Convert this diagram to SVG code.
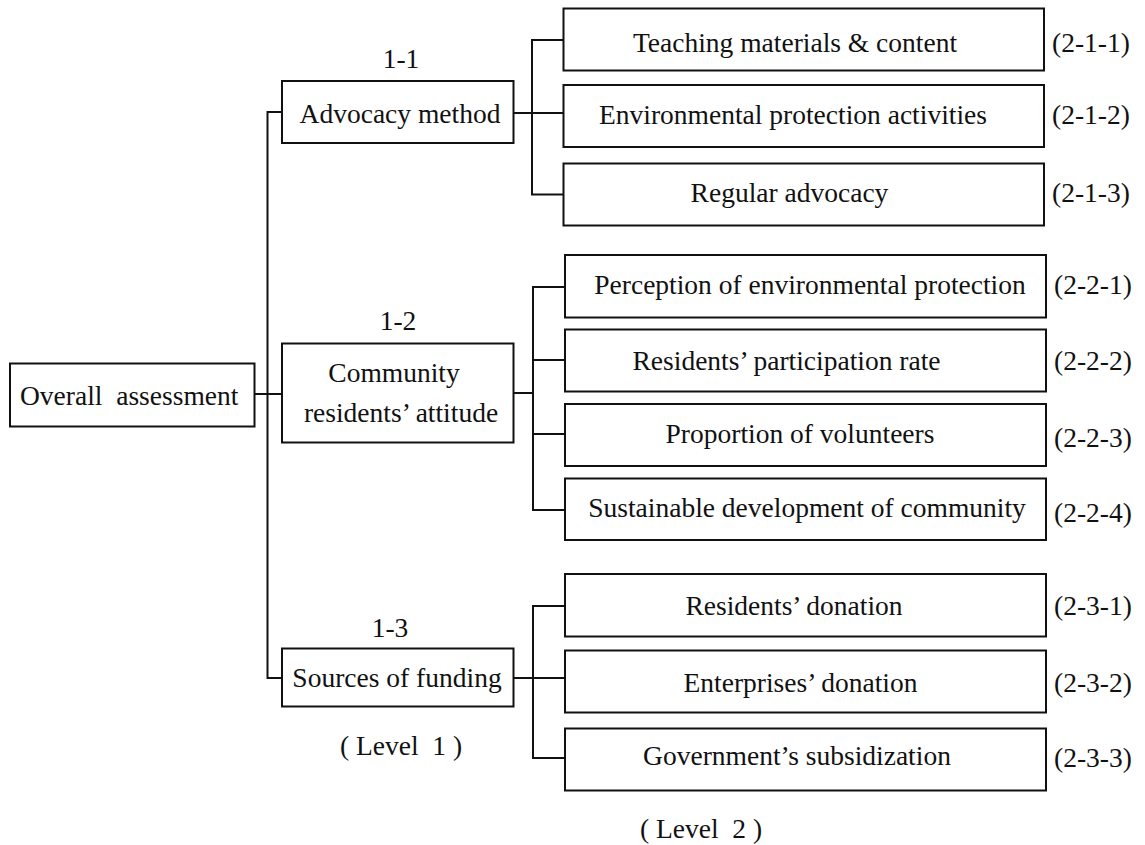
<svg xmlns="http://www.w3.org/2000/svg" width="1145" height="845" viewBox="0 0 1145 845">
  <style>
    .box { fill: #ffffff; stroke: #111111; stroke-width: 2; }
    .wire { fill: none; stroke: #111111; stroke-width: 2; }
    text { font-family: "Liberation Serif", "Times New Roman", serif; font-size: 27.5px; fill: #111111; white-space: pre; }
    .c { text-anchor: middle; }
  </style>
  <rect width="1145" height="845" fill="#ffffff"/>

  <!-- tree connectors -->
  <g id="connectors">
    <path class="wire" d="M254.5 394 H282"/>
    <path class="wire" d="M282 112 H267.5 V678 H282"/>
    <path class="wire" d="M513.5 113 H563.5"/>
    <path class="wire" d="M563.5 40 H532 V194.5 H563.5"/>
    <path class="wire" d="M513.5 393 H533"/>
    <path class="wire" d="M565 287 H533 V510 H565"/>
    <path class="wire" d="M533 360 H565"/>
    <path class="wire" d="M533 434 H565"/>
    <path class="wire" d="M513.5 678 H565"/>
    <path class="wire" d="M565 606 H533 V758 H565"/>
  </g>

  <!-- root -->
  <g id="overall">
    <rect class="box" x="10" y="363.5" width="244.5" height="63"/>
    <text x="20" y="405" xml:space="preserve">Overall  assessment</text>
  </g>

  <!-- level 1 -->
  <g id="n1-1">
    <text class="c" x="401" y="68">1-1</text>
    <rect class="box" x="282" y="81" width="231.5" height="62"/>
    <text class="c" x="400" y="123">Advocacy method</text>
  </g>
  <g id="n1-2">
    <text class="c" x="398" y="330">1-2</text>
    <rect class="box" x="282" y="343.5" width="231.5" height="99"/>
    <text class="c" x="394" y="381.5">Community</text>
    <text class="c" x="401" y="421.5">residents’ attitude</text>
  </g>
  <g id="n1-3">
    <text class="c" x="390" y="636.5">1-3</text>
    <rect class="box" x="282" y="648.5" width="231.5" height="58"/>
    <text class="c" x="397" y="686.5">Sources of funding</text>
  </g>

  <!-- level 2: advocacy method -->
  <g id="n2-1-1">
    <rect class="box" x="563.5" y="8.5" width="480.5" height="62"/>
    <text class="c" x="795" y="52">Teaching materials &amp; content</text>
    <text x="1052" y="52">(2-1-1)</text>
  </g>
  <g id="n2-1-2">
    <rect class="box" x="563.5" y="85" width="480.5" height="62"/>
    <text class="c" x="793" y="124">Environmental protection activities</text>
    <text x="1052" y="124">(2-1-2)</text>
  </g>
  <g id="n2-1-3">
    <rect class="box" x="563.5" y="163.5" width="480.5" height="62"/>
    <text class="c" x="789.5" y="201.5">Regular advocacy</text>
    <text x="1052" y="201.5">(2-1-3)</text>
  </g>

  <!-- level 2: community residents' attitude -->
  <g id="n2-2-1">
    <rect class="box" x="565" y="255" width="481" height="62.5"/>
    <text class="c" x="810" y="293.5">Perception of environmental protection</text>
    <text x="1054" y="293.5">(2-2-1)</text>
  </g>
  <g id="n2-2-2">
    <rect class="box" x="565" y="329.5" width="481" height="62"/>
    <text class="c" x="786.5" y="370">Residents’ participation rate</text>
    <text x="1054" y="370">(2-2-2)</text>
  </g>
  <g id="n2-2-3">
    <rect class="box" x="565" y="404" width="481" height="62"/>
    <text class="c" x="800" y="443">Proportion of volunteers</text>
    <text x="1054" y="446.5">(2-2-3)</text>
  </g>
  <g id="n2-2-4">
    <rect class="box" x="565" y="478.5" width="481" height="61.5"/>
    <text class="c" x="807" y="516.5">Sustainable development of community</text>
    <text x="1054" y="521.5">(2-2-4)</text>
  </g>

  <!-- level 2: sources of funding -->
  <g id="n2-3-1">
    <rect class="box" x="565" y="574" width="481" height="62.5"/>
    <text class="c" x="794" y="615">Residents’ donation</text>
    <text x="1054" y="615">(2-3-1)</text>
  </g>
  <g id="n2-3-2">
    <rect class="box" x="565" y="650.5" width="481" height="62"/>
    <text class="c" x="800.5" y="691.5">Enterprises’ donation</text>
    <text x="1054" y="692">(2-3-2)</text>
  </g>
  <g id="n2-3-3">
    <rect class="box" x="565" y="728.5" width="481" height="62"/>
    <text class="c" x="797" y="765">Government’s subsidization</text>
    <text x="1054" y="766.5">(2-3-3)</text>
  </g>

  <!-- level captions -->
  <g id="levels">
    <text class="c" x="401" y="755" xml:space="preserve">( Level  1 )</text>
    <text class="c" x="701" y="838" xml:space="preserve">( Level  2 )</text>
  </g>
</svg>
